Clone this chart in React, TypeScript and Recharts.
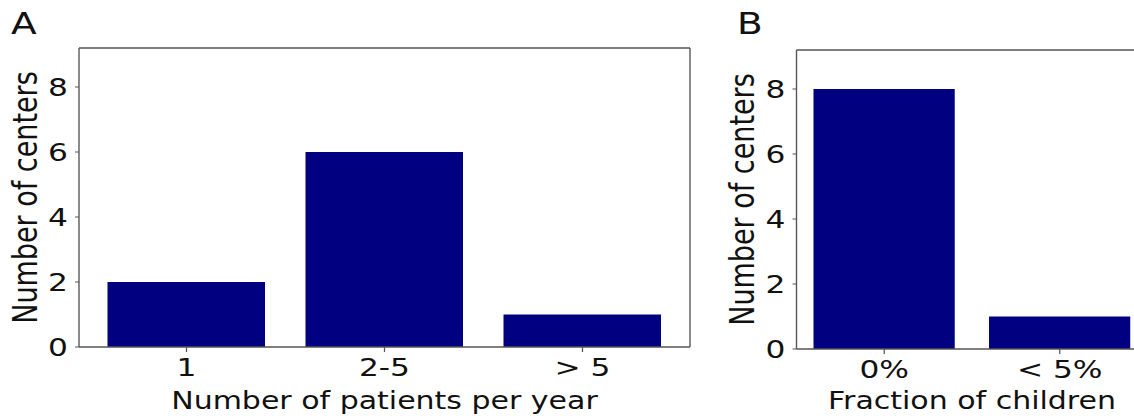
import { BarChart, Bar, XAxis, YAxis } from "recharts";

// picture is stretched horizontally, so x sizes are divided by K and the wrapper is scaled back
const K = 1.25;

const patientCategories = ["1", "2-5", "> 5"];
const patientCenters = [2, 6, 1];

const childCategories = ["0%", "< 5%"];
const childCenters = [8, 1];

const yTicks = [0, 2, 4, 6, 8];
const yMax = 9.2;

const dataA = patientCategories.map((name, i) => ({ name, count: patientCenters[i] }));
const dataB = childCategories.map((name, i) => ({ name, count: childCenters[i] }));

const FONT = "DejaVu Sans, sans-serif";
const AXIS = "#555";
const TEXT = "#111";
const NAVY = "#000080";

function Panel({
  data,
  width,
  top,
  right,
  xHeight,
  pad,
  gap,
  xLabel,
}: {
  data: { name: string; count: number }[];
  width: number;
  top: number;
  right: number;
  xHeight: number;
  pad: number;
  gap: number;
  xLabel: string;
}) {
  const tick = { fontSize: 25, fill: TEXT, fontFamily: FONT };
  return (
    <BarChart
      width={width / K}
      height={416}
      data={data}
      margin={{ top: top - 1, right: right / K - 1, left: 0, bottom: 0 }}
      barCategoryGap={gap / K}
    >
      <XAxis
        dataKey="name"
        height={xHeight}
        tickSize={5}
        tickMargin={6}
        tick={tick}
        stroke={AXIS}
        axisLine={{ stroke: AXIS, strokeWidth: 1.3 }}
        tickLine={{ stroke: AXIS, strokeWidth: 1 }}
        padding={{ left: pad / K, right: pad / K }}
        label={{ value: xLabel, position: "insideBottom", offset: 7, fontSize: 24, fill: TEXT, fontFamily: FONT }}
      />
      <XAxis xAxisId="top" dataKey="name" orientation="top" height={1} tick={false} tickLine={false}
        stroke={AXIS} axisLine={{ stroke: AXIS, strokeWidth: 1.3 }} padding={{ left: pad / K, right: pad / K }} />
      <YAxis
        width={79 / K}
        domain={[0, yMax]}
        ticks={yTicks}
        allowDataOverflow
        tickSize={4 / K}
        tickMargin={7 / K}
        tick={tick}
        axisLine={{ stroke: AXIS, strokeWidth: 1.1 }}
        tickLine={{ stroke: AXIS, strokeWidth: 1 }}
        label={{
          value: "Number of centers",
          angle: -90,
          position: "insideLeft",
          offset: 25 / K,
          fontSize: 27,
          fill: TEXT,
          fontFamily: FONT,
          style: { textAnchor: "middle" },
        }}
      />
      <YAxis yAxisId="right" orientation="right" width={1} domain={[0, yMax]} tick={false} tickLine={false}
        stroke={AXIS} axisLine={{ stroke: AXIS, strokeWidth: 1.1 }} />
      <Bar dataKey="count" fill={NAVY} isAnimationActive={false} />
    </BarChart>
  );
}

export default function App() {
  const letter = { position: "absolute" as const, top: 6, fontSize: 30, fontFamily: FONT, color: TEXT, lineHeight: "36px" };
  return (
    <div style={{ position: "absolute", left: 0, top: 0, width: 1134, height: 416, overflow: "hidden", background: "#fff" }}>
      <div style={{ position: "relative", width: 1160 / K, height: 416, transform: `scaleX(${K})`, transformOrigin: "0 0" }}>
        <div style={{ ...letter, left: 11 / K }}>A</div>
        <div style={{ ...letter, left: 737 / K }}>B</div>
        <div style={{ position: "absolute", left: 0, top: 0 }}>
          <Panel data={dataA} width={700} top={48} right={10} xHeight={69} pad={8.5} gap={20} xLabel="Number of patients per year" />
        </div>
        <div style={{ position: "absolute", left: 718 / K, top: 0 }}>
          <Panel data={dataB} width={442} top={50} right={12} xHeight={67} pad={0} gap={17} xLabel="Fraction of children" />
        </div>
      </div>
    </div>
  );
}
